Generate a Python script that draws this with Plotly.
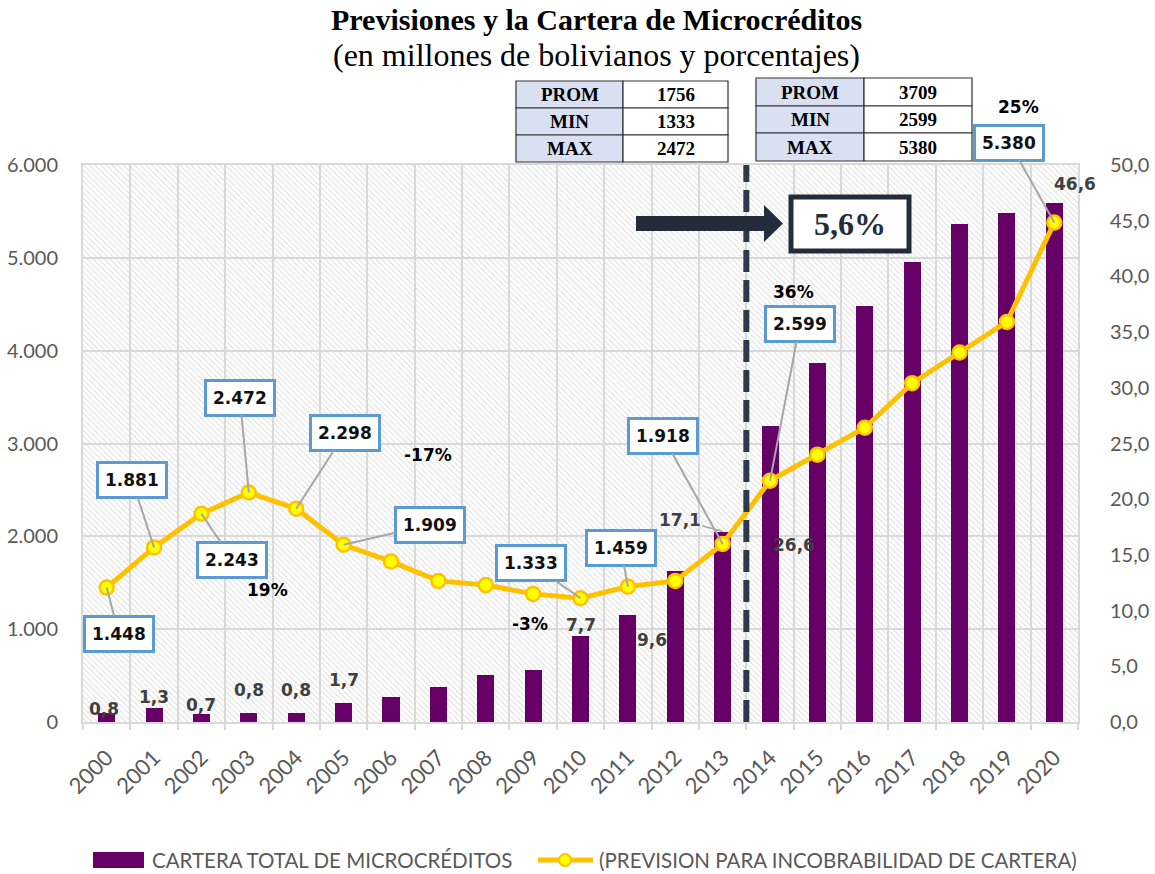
import base64
import plotly.graph_objects as go

# ---------------- data ----------------
years = list(range(2000, 2021))
cartera = [0.8, 1.3, 0.7, 0.8, 0.8, 1.7, 2.2, 3.1, 4.2, 4.7, 7.7, 9.6, 13.6, 17.1,
           26.6, 32.2, 37.3, 41.3, 44.7, 45.7, 46.6]
prevision = [1448, 1881, 2243, 2472, 2298, 1909, 1730, 1520, 1475, 1380, 1333, 1459,
             1520, 1918, 2599, 2880, 3170, 3650, 3980, 4310, 5380]

# callout boxes on the line: year -> (dx, dy) pixel offset of the box
callout_years = [2000, 2001, 2002, 2003, 2004, 2005, 2010, 2011, 2013, 2014, 2020]
callout_off = [(12, 46), (-22, -67), (31, 46), (-9, -95), (49, -76), (86, -20),
               (-50, -35), (-7, -39), (-60, -108), (30, -157), (-45, -80)]

# labels on bars
bar_label_years = [2000, 2001, 2002, 2003, 2004, 2005, 2010, 2011, 2014, 2020]
bar_label_shift = [(-3, 4), (0, 11), (0, 9), (0, 23), (0, 23), (0, 23), (0, 11),
                   (24, -25), (24, -119), (21, 19)]
leader_bar_year = 2013

growth_labels = ["19%", "-17%", "-3%", "36%", "25%"]
growth_pos = [(267, 590), (428, 455), (530, 624), (793, 292), (1018, 107)]

table1_labels = ["PROM", "MIN", "MAX"]
table1_values = ["1756", "1333", "2472"]
table2_labels = ["PROM", "MIN", "MAX"]
table2_values = ["3709", "2599", "5380"]

split_year = 2013.5
highlight_text = "5,6%"

title = "Previsiones y la Cartera de Microcréditos"
subtitle = "(en millones de bolivianos y porcentajes)"
legend_bar = "CARTERA TOTAL DE MICROCRÉDITOS"
legend_line = "(PREVISION PARA INCOBRABILIDAD DE CARTERA)"

# ---------------- layout geometry ----------------
W, H = 1155, 874
L, R, T, B = 83, 1078, 165, 722
PW, PH = R - L, B - T


def pxx(px):
    return (px - L) / PW


def pxy(py):
    return (B - py) / PH


PURPLE = "#660066"
GOLD = "#ffc000"
NAVY = "#232c3b"
BLUE = "#5b9bd5"
GRID = "#d9d9d9"
TICK = "#595959"

fig = go.Figure()

fig.add_trace(go.Bar(
    x=years, y=cartera, yaxis="y", width=0.36,
    marker=dict(color=PURPLE, line=dict(width=0)),
    name=legend_bar, showlegend=False,
))
fig.add_trace(go.Scatter(
    x=years, y=prevision, yaxis="y2", mode="lines+markers",
    line=dict(color=GOLD, width=5),
    marker=dict(size=14, color="#ffff00", line=dict(color=GOLD, width=2.5)),
    name=legend_line, showlegend=False,
))

annotations = []
shapes = []

# callout boxes
for yr, (dx, dy) in zip(callout_years, callout_off):
    v = prevision[years.index(yr)]
    annotations.append(dict(
        x=yr, y=v, xref="x", yref="y2", text=f"{v:,}".replace(",", "."),
        showarrow=True, arrowhead=0, arrowwidth=2, arrowcolor="#a6a6a6",
        ax=dx, ay=dy, standoff=0,
        font=dict(family="DejaVu Sans", size=17, color="#111111", weight="bold"),
        bgcolor="white", bordercolor=BLUE, borderwidth=3, borderpad=6,
    ))

# bar labels
for yr, (xs, ys) in zip(bar_label_years, bar_label_shift):
    v = cartera[years.index(yr)]
    annotations.append(dict(
        x=yr, y=v, xref="x", yref="y", text=f"{v:.1f}".replace(".", ","),
        showarrow=False, xshift=xs, yshift=ys,
        font=dict(family="DejaVu Sans", size=17, color="#404040", weight="bold"),
    ))
v = cartera[years.index(leader_bar_year)]
annotations.append(dict(
    x=leader_bar_year, y=v, xref="x", yref="y", text=f"{v:.1f}".replace(".", ","),
    showarrow=True, arrowhead=0, arrowwidth=1.5, arrowcolor="#a6a6a6",
    ax=-43, ay=-12, standoff=0,
    font=dict(family="DejaVu Sans", size=17, color="#404040", weight="bold"),
))

# growth labels
for txt, (px, py) in zip(growth_labels, growth_pos):
    annotations.append(dict(
        x=pxx(px), y=pxy(py), xref="paper", yref="paper", text=txt,
        showarrow=False, xanchor="center", yanchor="middle",
        font=dict(family="DejaVu Sans", size=17, color="#000000", weight="bold"),
    ))

# titles
annotations.append(dict(
    x=pxx(596), y=pxy(19), xref="paper", yref="paper", text=f"<b>{title}</b>",
    showarrow=False, xanchor="center", yanchor="middle",
    font=dict(family="Liberation Serif", size=30, color="#000000"),
))
annotations.append(dict(
    x=pxx(596), y=pxy(55), xref="paper", yref="paper", text=subtitle,
    showarrow=False, xanchor="center", yanchor="middle",
    font=dict(family="Liberation Serif", size=32, color="#000000"),
))


# tables
def draw_table(x0, xm, x1, rows, labels, values):
    for i, (lab, val) in enumerate(zip(labels, values)):
        y0, y1 = rows[i], rows[i + 1]
        shapes.append(dict(type="rect", xref="paper", yref="paper",
                           x0=pxx(x0), x1=pxx(xm), y0=pxy(y1), y1=pxy(y0),
                           fillcolor="#d9e0f2", line=dict(color="#333333", width=1.2)))
        shapes.append(dict(type="rect", xref="paper", yref="paper",
                           x0=pxx(xm), x1=pxx(x1), y0=pxy(y1), y1=pxy(y0),
                           fillcolor="white", line=dict(color="#333333", width=1.2)))
        for txt, cx in ((lab, (x0 + xm) / 2), (val, (xm + x1) / 2)):
            annotations.append(dict(
                x=pxx(cx), y=pxy((y0 + y1) / 2), xref="paper", yref="paper",
                text=f"<b>{txt}</b>", showarrow=False, xanchor="center", yanchor="middle",
                font=dict(family="Liberation Serif", size=19, color="#000000"),
            ))


draw_table(516, 623, 728, [81, 108, 135, 162], table1_labels, table1_values)
draw_table(756, 864, 972, [78, 106, 133, 161], table2_labels, table2_values)

# dashed split line
shapes.append(dict(type="line", xref="x", yref="paper", x0=split_year, x1=split_year,
                   y0=0, y1=1, line=dict(color="#2e3a4b", width=6, dash="22px,8px")))

# arrow
shapes.append(dict(type="rect", xref="paper", yref="paper",
                   x0=pxx(636), x1=pxx(768), y0=pxy(231), y1=pxy(216),
                   fillcolor=NAVY, line=dict(width=0)))
shapes.append(dict(type="path", xref="paper", yref="paper",
                   path=f"M {pxx(764)} {pxy(205)} L {pxx(783)} {pxy(223.5)} L {pxx(764)} {pxy(242)} Z",
                   fillcolor=NAVY, line=dict(width=0)))
# highlight box
shapes.append(dict(type="rect", xref="paper", yref="paper",
                   x0=pxx(791), x1=pxx(909), y0=pxy(251), y1=pxy(197),
                   fillcolor="white", line=dict(color=NAVY, width=5)))
annotations.append(dict(
    x=pxx(850), y=pxy(224), xref="paper", yref="paper", text=f"<b>{highlight_text}</b>",
    showarrow=False, xanchor="center", yanchor="middle",
    font=dict(family="Liberation Serif", size=32, color=NAVY),
))

# manual legend
shapes.append(dict(type="rect", xref="paper", yref="paper",
                   x0=pxx(93), x1=pxx(144), y0=pxy(868), y1=pxy(852),
                   fillcolor=PURPLE, line=dict(width=0)))
annotations.append(dict(
    x=pxx(150), y=pxy(860), xref="paper", yref="paper", text=legend_bar,
    showarrow=False, xanchor="left", yanchor="middle",
    font=dict(family="Lato", size=20.5, color=TICK),
))
shapes.append(dict(type="line", xref="paper", yref="paper",
                   x0=pxx(538), x1=pxx(593), y0=pxy(860), y1=pxy(860),
                   line=dict(color=GOLD, width=5)))
shapes.append(dict(type="circle", xref="paper", yref="paper",
                   x0=pxx(559), x1=pxx(571), y0=pxy(866), y1=pxy(854),
                   fillcolor="#ffff00", line=dict(color=GOLD, width=2)))
annotations.append(dict(
    x=pxx(597), y=pxy(860), xref="paper", yref="paper", text=legend_line,
    showarrow=False, xanchor="left", yanchor="middle",
    font=dict(family="Lato", size=20.5, color=TICK),
))

# hatched plot background
svg = (f'<svg xmlns="http://www.w3.org/2000/svg" width="{PW}" height="{PH}">'
       '<defs><pattern id="p" width="4" height="4" patternUnits="userSpaceOnUse" '
       'patternTransform="rotate(-45)"><line x1="0" y1="0" x2="0" y2="4" '
       'stroke="#cfcfcf" stroke-width="1.3"/></pattern></defs>'
       '<rect width="100%" height="100%" fill="white"/>'
       '<rect width="100%" height="100%" fill="url(#p)"/></svg>')
img_src = "data:image/svg+xml;base64," + base64.b64encode(svg.encode()).decode()

fig.update_layout(
    width=W, height=H,
    margin=dict(l=L, r=W - R, t=T, b=H - B, pad=0, autoexpand=False),
    paper_bgcolor="white", plot_bgcolor="rgba(0,0,0,0)",
    separators=",.",
    showlegend=False,
    bargap=0,
    images=[dict(source=img_src, xref="paper", yref="paper", x=0, y=1,
                 sizex=1, sizey=1, xanchor="left", yanchor="top",
                 sizing="stretch", layer="below")],
    xaxis=dict(
        automargin=False,
        range=[1999.5, 2020.5], tickmode="array", tickvals=years,
        ticktext=[str(y) for y in years], tickangle=-45,
        tickfont=dict(family="Lato", size=22, color=TICK),
        showgrid=False, zeroline=False, ticks="",
        ticklabelstandoff=12,
        showline=True, linecolor=GRID, linewidth=2, mirror=True,
        minor=dict(tickmode="linear", tick0=1999.5, dtick=1, showgrid=True,
                   gridcolor=GRID, gridwidth=2, ticks="outside", ticklen=6,
                   tickcolor=GRID, tickwidth=1.5),
    ),
    yaxis=dict(
        automargin=False,
        side="right", range=[0, 50], dtick=5, tickformat=".1f",
        tickfont=dict(family="Lato", size=20, color=TICK),
        showgrid=False, zeroline=False, ticks="",
        showline=True, linecolor=GRID, linewidth=2, mirror=True,
        ticklabelstandoff=26,
    ),
    yaxis2=dict(
        automargin=False,
        overlaying="y", side="left", range=[0, 6000], dtick=1000, tickformat=",.0f",
        tickfont=dict(family="Lato", size=20, color=TICK),
        showgrid=True, gridcolor=GRID, gridwidth=2, zeroline=False, ticks="",
        ticklabelstandoff=24,
    ),
    annotations=annotations,
    shapes=shapes,
)

fig.write_html("out.html", config={"displayModeBar": False},
               post_script="document.body.style.margin='0px';")
